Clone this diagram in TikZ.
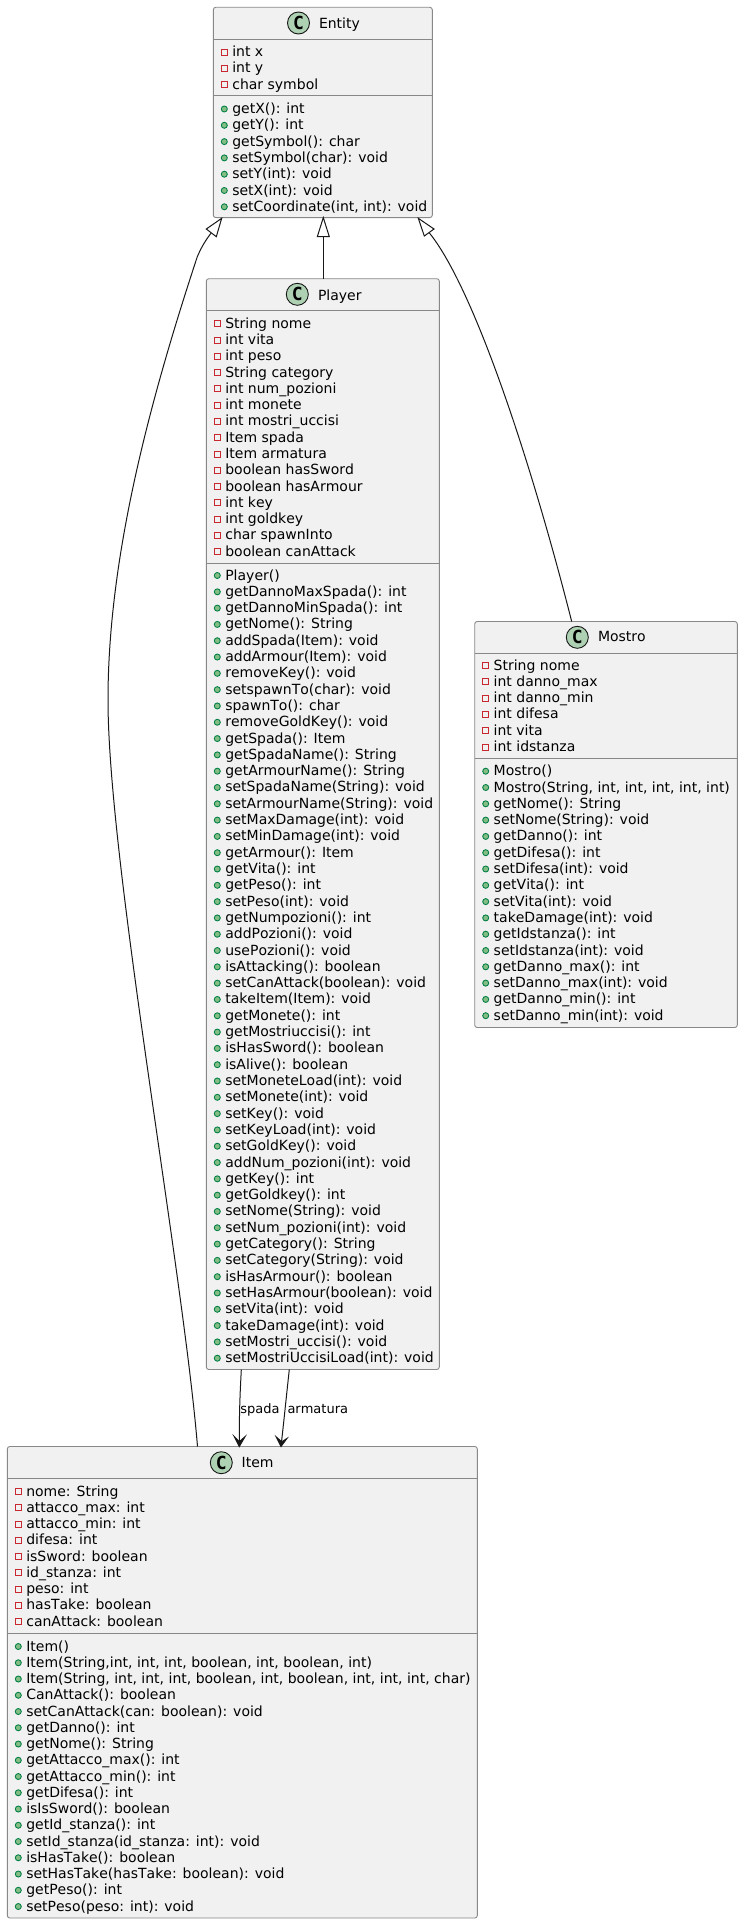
\documentclass[tikz,border=0pt]{standalone}
\usepackage{fontspec}
\setmainfont[Ligatures=NoCommon,Kerning=Off]{DejaVu Sans}
\newfontfamily\glyphfont{DejaVu Sans Mono}
\definecolor{boxfill}{HTML}{F1F1F1}
\definecolor{boxline}{HTML}{888888}
\definecolor{inkline}{HTML}{181818}
\definecolor{iconfill}{HTML}{ADD1B2}
\definecolor{privline}{HTML}{C82930}
\definecolor{publine}{HTML}{038048}
\definecolor{pubfill}{HTML}{84BE84}
\newcount\rowno
\tikzset{
  umlbox/.style={draw=boxline,fill=boxfill,line width=.9pt,rounded corners=2.5pt,inner sep=0pt,outer sep=0pt},
  umlrule/.style={draw=boxline,line width=.9pt},
  rowtext/.style={anchor=base west,inner sep=0pt,outer sep=0pt,font=\fontsize{14}{16}\selectfont,text=black},
  titletext/.style={rowtext},
  edgelabel/.style={anchor=base west,inner sep=0pt,outer sep=0pt,font=\fontsize{13}{15}\selectfont,text=black},
  classicon/.style={circle,draw=inkline,fill=iconfill,line width=.9pt,minimum size=22pt,inner sep=0pt,outer sep=0pt,
    font=\glyphfont\bfseries\fontsize{18}{18}\selectfont,text=black},
  privmark/.style={draw=privline,fill=boxfill,line width=.9pt},
  pubmark/.style={draw=publine,fill=pubfill,line width=.9pt},
  relline/.style={draw=inkline,line width=1pt},
  openhead/.style={draw=inkline,fill=white,line width=1pt,line join=miter},
  solidhead/.style={draw=inkline,fill=inkline,line width=1pt,line join=miter}
}
% name, x1, y1, x2, y2, header rule y, section rule y
\newcommand{\umlclass}[7]{%
  \pgfmathsetmacro\ucx{(#2+#4)/2}\pgfmathsetmacro\ucy{(#3+#5)/2}%
  \pgfmathsetmacro\ucw{#4-#2}\pgfmathsetmacro\uch{#5-#3}%
  \node[umlbox,minimum width=\ucw pt,minimum height=\uch pt] (#1) at (\ucx,\ucy) {};
  \draw[umlrule] (#2,#6) -- (#4,#6);
  \draw[umlrule] (#2,#7) -- (#4,#7);
  \def\rowbase{#2}\def\curbox{#1}\rowno=0
}
% icon x, y, title x, baseline, title
\newcommand{\umlhead}[5]{%
  \node[classicon] (\curbox-icon) at (#1,#2) {C};
  \node[titletext] (\curbox-title) at (#3,#4) {#5};
}
\newcommand{\startrows}[2]{\def\rowy{#1}\def\rowstep{#2}}
\newcommand{\advrow}{\pgfmathsetmacro\rowy{\rowy+\rowstep}\advance\rowno by 1 }
\newcommand{\attr}[1]{%
  \pgfmathsetmacro\mx{\rowbase+11}\pgfmathsetmacro\my{\rowy-4.5}%
  \draw[privmark] (\mx-3,\my-3) rectangle (\mx+3,\my+3);
  \pgfmathsetmacro\tx{\rowbase+19}%
  \node[rowtext] (\curbox-r\the\rowno) at (\tx,\rowy) {#1};
  \advrow
}
\newcommand{\meth}[1]{%
  \pgfmathsetmacro\mx{\rowbase+11}\pgfmathsetmacro\my{\rowy-4.5}%
  \draw[pubmark] (\mx,\my) circle (3);
  \pgfmathsetmacro\tx{\rowbase+19}%
  \node[rowtext] (\curbox-r\the\rowno) at (\tx,\rowy) {#1};
  \advrow
}
\begin{document}
\begin{tikzpicture}[x=1pt,y=-1pt]
\useasboundingbox (0,0) rectangle (743,1924);

\umlclass{entity}{213.3}{7.3}{432.3}{217.6}{39.3}{95.3}
\umlhead{298.5}{23}{319}{28.3}{Entity}
\startrows{56.5}{16.3}
\attr{int x}
\attr{int y}
\attr{char symbol}
\startrows{113.5}{16.3}
\meth{getX(): int}
\meth{getY(): int}
\meth{getSymbol(): char}
\meth{setSymbol(char): void}
\meth{setY(int): void}
\meth{setX(int): void}
\meth{setCoordinate(int, int): void}

\umlclass{player}{206.3}{278.7}{439.3}{1369.5}{310.7}{563.7}
\umlhead{297.3}{294.3}{318}{300}{Player}
\startrows{328.3}{16.27}
\attr{String nome}
\attr{int vita}
\attr{int peso}
\attr{String category}
\attr{int num\_pozioni}
\attr{int monete}
\attr{int mostri\_uccisi}
\attr{Item spada}
\attr{Item armatura}
\attr{boolean hasSword}
\attr{boolean hasArmour}
\attr{int key}
\attr{int goldkey}
\attr{char spawnInto}
\attr{boolean canAttack}
\startrows{580}{16.306}
\meth{Player()}
\meth{getDannoMaxSpada(): int}
\meth{getDannoMinSpada(): int}
\meth{getNome(): String}
\meth{addSpada(Item): void}
\meth{addArmour(Item): void}
\meth{removeKey(): void}
\meth{setspawnTo(char): void}
\meth{spawnTo(): char}
\meth{removeGoldKey(): void}
\meth{getSpada(): Item}
\meth{getSpadaName(): String}
\meth{getArmourName(): String}
\meth{setSpadaName(String): void}
\meth{setArmourName(String): void}
\meth{setMaxDamage(int): void}
\meth{setMinDamage(int): void}
\meth{getArmour(): Item}
\meth{getVita(): int}
\meth{getPeso(): int}
\meth{setPeso(int): void}
\meth{getNumpozioni(): int}
\meth{addPozioni(): void}
\meth{usePozioni(): void}
\meth{isAttacking(): boolean}
\meth{setCanAttack(boolean): void}
\meth{takeItem(Item): void}
\meth{getMonete(): int}
\meth{getMostriuccisi(): int}
\meth{isHasSword(): boolean}
\meth{isAlive(): boolean}
\meth{setMoneteLoad(int): void}
\meth{setMonete(int): void}
\meth{setKey(): void}
\meth{setKeyLoad(int): void}
\meth{setGoldKey(): void}
\meth{addNum\_pozioni(int): void}
\meth{getKey(): int}
\meth{getGoldkey(): int}
\meth{setNome(String): void}
\meth{setNum\_pozioni(int): void}
\meth{getCategory(): String}
\meth{setCategory(String): void}
\meth{isHasArmour(): boolean}
\meth{setHasArmour(boolean): void}
\meth{setVita(int): void}
\meth{takeDamage(int): void}
\meth{setMostri\_uccisi(): void}
\meth{setMostriUccisiLoad(int): void}

\umlclass{mostro}{474.7}{621.5}{737.3}{1027.5}{653.3}{758.7}
\umlhead{577.3}{637.3}{598}{641.7}{Mostro}
\startrows{670}{16.3}
\attr{String nome}
\attr{int danno\_max}
\attr{int danno\_min}
\attr{int difesa}
\attr{int vita}
\attr{int idstanza}
\startrows{775.7}{16.3}
\meth{Mostro()}
\meth{Mostro(String, int, int, int, int, int)}
\meth{getNome(): String}
\meth{setNome(String): void}
\meth{getDanno(): int}
\meth{getDifesa(): int}
\meth{setDifesa(int): void}
\meth{getVita(): int}
\meth{setVita(int): void}
\meth{takeDamage(int): void}
\meth{getIdstanza(): int}
\meth{setIdstanza(int): void}
\meth{getDanno\_max(): int}
\meth{setDanno\_max(int): void}
\meth{getDanno\_min(): int}
\meth{setDanno\_min(int): void}

\umlclass{item}{7.3}{1446.5}{477.3}{1918}{1478.7}{1633.7}
\umlhead{221.3}{1462.7}{241.7}{1467.7}{Item}
\startrows{1496}{16.25}
\attr{nome: String}
\attr{attacco\_max: int}
\attr{attacco\_min: int}
\attr{difesa: int}
\attr{isSword: boolean}
\attr{id\_stanza: int}
\attr{peso: int}
\attr{hasTake: boolean}
\attr{canAttack: boolean}
\startrows{1651}{16.25}
\meth{Item()}
\meth{Item(String,int, int, int, boolean, int, boolean, int)}
\meth{Item(String, int, int, int, boolean, int, boolean, int, int, int, char)}
\meth{CanAttack(): boolean}
\meth{setCanAttack(can: boolean): void}
\meth{getDanno(): int}
\meth{getNome(): String}
\meth{getAttacco\_max(): int}
\meth{getAttacco\_min(): int}
\meth{getDifesa(): int}
\meth{isIsSword(): boolean}
\meth{getId\_stanza(): int}
\meth{setId\_stanza(id\_stanza: int): void}
\meth{isHasTake(): boolean}
\meth{setHasTake(hasTake: boolean): void}
\meth{getPeso(): int}
\meth{setPeso(peso: int): void}

% Entity <|-- Player
\coordinate (tipP) at (323.3,217.6);
\coordinate (baseP) at (323.3,236.7);
\coordinate (endP) at (player.north -| baseP);
\draw[relline] (baseP) -- (endP);
\draw[openhead] (tipP) -- (317.3,236.7) -- (329.3,236.7) -- cycle;

% Entity <|-- Item
\coordinate (tipI) at (221.7,218.3);
\coordinate (baseI) at (211.3,232.8);
\coordinate (endI) at (197.5,1446.5);
\draw[relline] (baseI) .. controls (205,241) and (201,248) .. (197.3,256.7)
  .. controls (147.8,406.7) and (108,560) .. (108,700)
  .. controls (108,860) and (183,1270) .. (endI);
\draw[openhead] (tipI) -- (206.3,229) -- (216.3,236.7) -- cycle;

% Entity <|-- Mostro
\coordinate (tipM) at (418.3,218.3);
\coordinate (baseM) at (429,232.5);
\coordinate (endM) at (571.7,621.5);
\draw[relline] (baseM) .. controls (472,285) and (528.5,451.5) .. (endM);
\draw[openhead] (tipM) -- (424.3,236) -- (434,229) -- cycle;

% Player --> Item : spada
\coordinate (spStart) at (241.3,1369.5);
\coordinate (spTip) at (239.3,1446.5);
\draw[relline] (spStart) .. controls (240,1395) and (239.3,1410) .. (239.3,1441);
\draw[solidhead] (spTip) -- (234.3,1436.7) -- (239.3,1441.7) -- (245,1436.7) -- cycle;
\node[edgelabel] (spadaLabel) at (240.3,1413.3) {spada};

% Player --> Item : armatura
\coordinate (arStart) at (289.3,1369.5);
\coordinate (arTip) at (281,1446.5);
\draw[relline] (arStart) .. controls (286.5,1395) and (284,1420) .. (281.6,1441);
\draw[solidhead] (arTip) -- (276.3,1437) -- (281.7,1441.8) -- (286.9,1438.5) -- cycle;
\node[edgelabel] (armaturaLabel) at (287.5,1413.3) {armatura};
\end{tikzpicture}
\end{document}
